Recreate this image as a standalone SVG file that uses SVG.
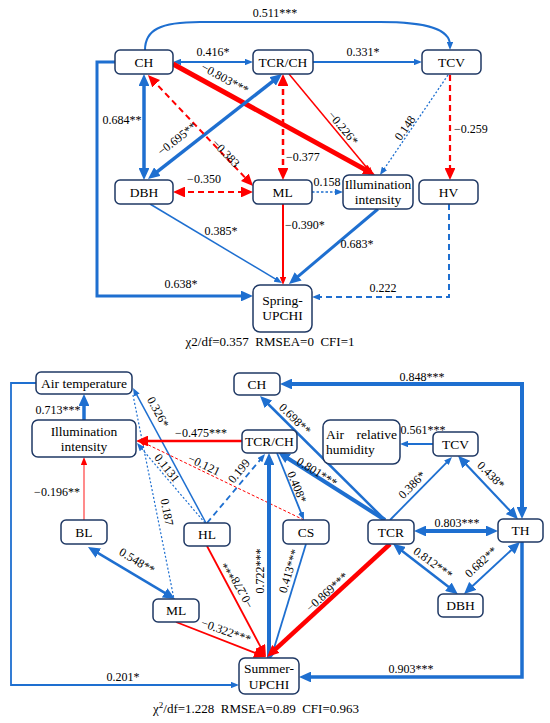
<svg xmlns="http://www.w3.org/2000/svg" width="550" height="723" viewBox="0 0 550 723">
<style>
.box{fill:#fff;stroke:#1f3864;stroke-width:1.5}
.b{stroke:#1e6fd0;fill:none}
.r{stroke:#ff0000;fill:none}
.p{stroke:#ff7f7f;fill:none}
.d{stroke-dasharray:6,4}
.o{stroke-dasharray:2,2}
</style>
<defs>
<marker id="bL" viewBox="0 0 10 9" refX="5.83" refY="4.5" markerWidth="12" markerHeight="10.8" markerUnits="userSpaceOnUse" orient="auto-start-reverse"><path d="M0,0 L10,4.5 L0,9 z" fill="#1e6fd0"/></marker>
<marker id="bS" viewBox="0 0 10 8" refX="3.75" refY="4" markerWidth="8" markerHeight="6.4" markerUnits="userSpaceOnUse" orient="auto-start-reverse"><path d="M0,0 L10,4 L0,8 z" fill="#1e6fd0"/></marker>
<marker id="rL" viewBox="0 0 10 9" refX="5.83" refY="4.5" markerWidth="12" markerHeight="10.8" markerUnits="userSpaceOnUse" orient="auto-start-reverse"><path d="M0,0 L10,4.5 L0,9 z" fill="#ff0000"/></marker>
<marker id="rS" viewBox="0 0 10 8" refX="3.75" refY="4" markerWidth="8" markerHeight="6.4" markerUnits="userSpaceOnUse" orient="auto-start-reverse"><path d="M0,0 L10,4 L0,8 z" fill="#ff0000"/></marker>
<marker id="pS" viewBox="0 0 10 8" refX="3.75" refY="4" markerWidth="8" markerHeight="6.4" markerUnits="userSpaceOnUse" orient="auto-start-reverse"><path d="M0,0 L10,4 L0,8 z" fill="#ff0000"/></marker>
</defs>
<rect width="550" height="723" fill="#fff"/>

<!-- TOP DIAGRAM connectors -->
<g id="connectors-top">
<path class="b" stroke-width="2" d="M145,50 C145,30 160,22 200,22 L380,22 C430,22 450,30 450,45" marker-end="url(#bS)"/>
<line class="b" stroke-width="2" x1="178" y1="62" x2="248" y2="62" marker-start="url(#bS)" marker-end="url(#bS)"/>
<line class="b" stroke-width="1.8" x1="313" y1="62" x2="417" y2="62" marker-end="url(#bS)"/>
<line class="r" stroke-width="5" x1="173" y1="64" x2="370.6" y2="172.6" marker-end="url(#rL)"/>
<line class="b" stroke-width="3.5" x1="144" y1="79" x2="144" y2="175" marker-start="url(#bL)" marker-end="url(#bL)"/>
<line class="b" stroke-width="3.5" x1="151.9" y1="175.9" x2="278.1" y2="77.1" marker-start="url(#bL)" marker-end="url(#bL)"/>
<line class="r d" stroke-width="2" x1="151.4" y1="78.6" x2="249.6" y2="182.4" marker-start="url(#rL)" marker-end="url(#rL)"/>
<line class="r d" stroke-width="2.5" x1="283" y1="79" x2="283" y2="175" marker-start="url(#rL)" marker-end="url(#rL)"/>
<line class="r" stroke-width="1.5" x1="289" y1="74" x2="369.8" y2="171.2" marker-end="url(#rS)"/>
<line class="b o" stroke-width="1.3" x1="448" y1="75" x2="382.8" y2="170.9" marker-end="url(#bS)"/>
<line class="r d" stroke-width="2.2" x1="450" y1="75" x2="450" y2="175" marker-end="url(#rL)"/>
<line class="r d" stroke-width="2" x1="178" y1="192" x2="248" y2="192" marker-start="url(#rL)" marker-end="url(#rL)"/>
<line class="b" stroke-width="1.5" stroke-dasharray="2.5,2" x1="312" y1="192" x2="338" y2="192" marker-end="url(#bS)"/>
<line class="b" stroke-width="1.5" x1="150" y1="204" x2="277.7" y2="280.4" marker-end="url(#bS)"/>
<line class="r" stroke-width="2" x1="283" y1="204" x2="283" y2="280" marker-end="url(#rS)"/>
<line class="b" stroke-width="3" x1="378" y1="209" x2="292.8" y2="280.8" marker-end="url(#bL)"/>
<path class="b d" stroke-width="2" d="M449,204 L449,297 L317,297" marker-end="url(#bS)"/>
<path class="b" stroke-width="3" d="M115,62 L97,62 L97,296 L248,296" marker-end="url(#bL)"/>
</g>
<g id="labels-top" font-family="Liberation Serif, serif" font-size="12" text-anchor="middle" fill="#000">
<text x="275" y="17">0.511***</text>
<text x="213" y="56">0.416*</text>
<text x="363" y="56">0.331*</text>
<text transform="translate(223,82) rotate(28.6)">−0.803***</text>
<text x="122" y="124">0.684**</text>
<text transform="translate(179.5,142) rotate(-38)">−0.695**</text>
<text transform="translate(223,156) rotate(46)">−0.383</text>
<text text-anchor="start" x="286" y="161">−0.377</text>
<text transform="translate(340,130.5) rotate(50)">−0.226*</text>
<text transform="translate(408.3,130.3) rotate(-55)">0.148</text>
<text text-anchor="start" x="454" y="133">−0.259</text>
<text x="204" y="183">−0.350</text>
<text x="327" y="186">0.158</text>
<text x="221" y="235">0.385*</text>
<text text-anchor="start" x="285" y="229">−0.390*</text>
<text x="357" y="248">0.683*</text>
<text x="383" y="292">0.222</text>
<text x="181" y="288">0.638*</text>
</g>

<!-- TOP DIAGRAM nodes -->
<g id="nodes-top" font-family="Liberation Serif, serif" font-size="13.5" text-anchor="middle" fill="#000">
<g id="t-CH"><rect class="box" x="115" y="50" width="58" height="24" rx="5"/><text x="144" y="66.5">CH</text></g>
<g id="t-TCRCH"><rect class="box" x="253" y="50" width="60" height="24" rx="5"/><text x="283" y="66.5">TCR/CH</text></g>
<g id="t-TCV"><rect class="box" x="422" y="50" width="59" height="24" rx="5"/><text x="451.5" y="66.5">TCV</text></g>
<g id="t-DBH"><rect class="box" x="115" y="180" width="58" height="24" rx="5"/><text x="144" y="196.5">DBH</text></g>
<g id="t-ML"><rect class="box" x="253" y="180" width="59" height="24" rx="5"/><text x="282.5" y="196.5">ML</text></g>
<g id="t-Illum"><rect class="box" x="343" y="175" width="70" height="34" rx="6"/><text x="378" y="189">Illumination</text><text x="378" y="204">intensity</text></g>
<g id="t-HV"><rect class="box" x="419" y="180" width="59" height="24" rx="5"/><text x="448.5" y="196.5">HV</text></g>
<g id="t-Spring"><rect class="box" x="253" y="285" width="59" height="47" rx="7"/><text x="282.5" y="305">Spring-</text><text x="282.5" y="320">UPCHI</text></g>
</g>
<text x="270" y="346" font-family="Liberation Serif, serif" font-size="13" text-anchor="middle" xml:space="preserve">χ2/df=0.357  RMSEA=0  CFI=1</text>

<!-- BOTTOM DIAGRAM connectors -->
<g id="connectors-bottom">
<line class="b" stroke-width="3.5" x1="84" y1="420" x2="84" y2="399" marker-end="url(#bL)"/>
<path class="b" stroke-width="1.8" d="M36,383 L11,383 L11,685 L234,685" marker-end="url(#bS)"/>
<line class="p" stroke-width="1.8" x1="84" y1="520" x2="84" y2="462" marker-end="url(#pS)"/>
<line class="b" stroke-width="2.5" x1="92.3" y1="549.6" x2="170.7" y2="596.4" marker-start="url(#bL)" marker-end="url(#bL)"/>
<line class="b" stroke-width="1.5" x1="206" y1="523" x2="135.4" y2="392.4" marker-end="url(#bS)"/>
<line class="b o" stroke-width="1.2" x1="205" y1="523" x2="140.2" y2="446.9" marker-end="url(#bS)"/>
<line class="b o" stroke-width="1.2" x1="133" y1="395" x2="174" y2="599"/>
<line class="r" stroke-width="2.5" x1="242" y1="441" x2="141" y2="441" marker-end="url(#rL)"/>
<line class="r" stroke-width="1" stroke-dasharray="3,2" x1="304" y1="520" x2="142.5" y2="442.1" marker-end="url(#rS)"/>
<line class="b d" stroke-width="1.8" x1="207" y1="523" x2="261.8" y2="457.9" marker-end="url(#bS)"/>
<line class="b" stroke-width="4" x1="269" y1="658" x2="269" y2="458" marker-end="url(#bL)"/>
<line class="b" stroke-width="1.8" x1="277" y1="453" x2="302.1" y2="515.4" marker-end="url(#bS)"/>
<line class="b" stroke-width="1.8" x1="306" y1="544" x2="272.5" y2="653.2" marker-end="url(#bS)"/>
<line class="b" stroke-width="4" x1="385" y1="520" x2="282.2" y2="454.7" marker-end="url(#bL)"/>
<line class="b" stroke-width="2.5" x1="385" y1="520" x2="263.6" y2="399.5" marker-end="url(#bL)"/>
<line class="b" stroke-width="1.8" x1="390" y1="520" x2="448.5" y2="460.6" marker-end="url(#bS)"/>
<line class="b" stroke-width="2.2" x1="514.5" y1="515.5" x2="461.5" y2="459.5" marker-start="url(#bL)" marker-end="url(#bL)"/>
<line class="b" stroke-width="2" x1="433" y1="444" x2="405" y2="444" marker-end="url(#bS)"/>
<path class="b" stroke-width="4" d="M285,384 L522,384 L522,514" marker-start="url(#bL)" marker-end="url(#bL)"/>
<line class="b" stroke-width="4" x1="419" y1="531" x2="493" y2="531" marker-start="url(#bL)" marker-end="url(#bL)"/>
<line class="b" stroke-width="2.5" x1="397" y1="546.9" x2="453.9" y2="591.1" marker-start="url(#bL)" marker-end="url(#bL)"/>
<line class="b" stroke-width="2" x1="467.7" y1="590.6" x2="516.3" y2="545.4" marker-start="url(#bL)" marker-end="url(#bL)"/>
<path class="b" stroke-width="3.5" d="M522,542 L522,677 L304,677" marker-end="url(#bL)"/>
<line class="r" stroke-width="4.5" x1="390" y1="544" x2="270.7" y2="653.6" marker-end="url(#rL)"/>
<line class="r" stroke-width="1.8" x1="207" y1="546" x2="263.6" y2="652.6" marker-end="url(#rL)"/>
<line class="r" stroke-width="1.8" x1="176" y1="622" x2="261.3" y2="655.3" marker-end="url(#rL)"/>
</g>
<g id="labels-bottom" font-family="Liberation Serif, serif" font-size="12" text-anchor="middle" fill="#000">
<text x="58" y="414">0.713***</text>
<text x="123" y="681">0.201*</text>
<text x="57" y="496">−0.196**</text>
<text transform="translate(135,564.4) rotate(31)">0.548**</text>
<text transform="translate(154.5,413.9) rotate(61.6)">0.326*</text>
<text transform="translate(163.9,470.5) rotate(51)">0.1131</text>
<text transform="translate(163,512.8) rotate(79)">0.187</text>
<text x="201" y="437">−0.475***</text>
<text transform="translate(202.3,468.6) rotate(25.4)">−0.121</text>
<text transform="translate(242,473.6) rotate(-50.4)">0.199</text>
<text transform="translate(264,571) rotate(-90)">0.722***</text>
<text transform="translate(293.3,488.5) rotate(68)">0.408*</text>
<text transform="translate(292.8,572.2) rotate(-73)">0.413***</text>
<text transform="translate(314.9,475.4) rotate(32)">0.801***</text>
<text transform="translate(292.2,421.9) rotate(44)">0.698**</text>
<text transform="translate(414.8,487.8) rotate(-45.4)">0.386*</text>
<text transform="translate(488.2,477.8) rotate(45)">0.438*</text>
<text x="423" y="434">0.561***</text>
<text x="422" y="381">0.848***</text>
<text x="457" y="527">0.803***</text>
<text transform="translate(430.6,566.2) rotate(36)">0.812***</text>
<text transform="translate(483.7,564.9) rotate(-43)">0.682**</text>
<text x="411" y="673">0.903***</text>
<text transform="translate(329.7,595) rotate(-42.3)">−0.869***</text>
<text transform="translate(241.5,583) rotate(-119.1)">−0.278***</text>
<text transform="translate(224.7,634.8) rotate(19.6)">−0.322***</text>
</g>

<!-- BOTTOM DIAGRAM nodes -->
<g id="nodes-bottom" font-family="Liberation Serif, serif" font-size="13.5" text-anchor="middle" fill="#000">
<g id="b-AirT"><rect class="box" x="36" y="372" width="96" height="22" rx="5"/><text x="84" y="387.5">Air temperature</text></g>
<g id="b-Illum"><rect class="box" x="32" y="420" width="104" height="37" rx="6"/><text x="84" y="436">Illumination</text><text x="84" y="451">intensity</text></g>
<g id="b-CH"><rect class="box" x="234" y="373" width="46" height="22" rx="5"/><text x="257" y="388.5">CH</text></g>
<g id="b-TCRCH"><rect class="box" x="242" y="430" width="55" height="23" rx="5"/><text x="269.5" y="446">TCR/CH</text></g>
<g id="b-ARH"><rect class="box" x="323" y="420" width="77" height="44" rx="7"/><text text-anchor="start" x="326" y="439">Air</text><text text-anchor="end" x="397" y="439">relative</text><text text-anchor="start" x="326" y="454">humidity</text></g>
<g id="b-TCV"><rect class="box" x="433" y="432" width="45" height="24" rx="5"/><text x="455.5" y="448.5">TCV</text></g>
<g id="b-TH"><rect class="box" x="498" y="519" width="45" height="23" rx="5"/><text x="520.5" y="535">TH</text></g>
<g id="b-TCR"><rect class="box" x="368" y="520" width="46" height="24" rx="5"/><text x="391" y="536.5">TCR</text></g>
<g id="b-CS"><rect class="box" x="283" y="520" width="46" height="24" rx="5"/><text x="306" y="536.5">CS</text></g>
<g id="b-DBH"><rect class="box" x="438" y="594" width="45" height="23" rx="5"/><text x="460.5" y="610">DBH</text></g>
<g id="b-BL"><rect class="box" x="61" y="520" width="46" height="24" rx="5"/><text x="84" y="536.5">BL</text></g>
<g id="b-HL"><rect class="box" x="184" y="523" width="46" height="23" rx="5"/><text x="207" y="539">HL</text></g>
<g id="b-ML"><rect class="box" x="153" y="599" width="46" height="23" rx="5"/><text x="176" y="615">ML</text></g>
<g id="b-Summer"><rect class="box" x="239" y="658" width="60" height="36" rx="6"/><text x="269" y="673">Summer-</text><text x="269" y="689">UPCHI</text></g>
</g>
<text x="256" y="713" font-family="Liberation Serif, serif" font-size="13" text-anchor="middle" xml:space="preserve">χ<tspan font-size="9" baseline-shift="super">2</tspan>/df=1.228  RMSEA=0.89  CFI=0.963</text>
</svg>
